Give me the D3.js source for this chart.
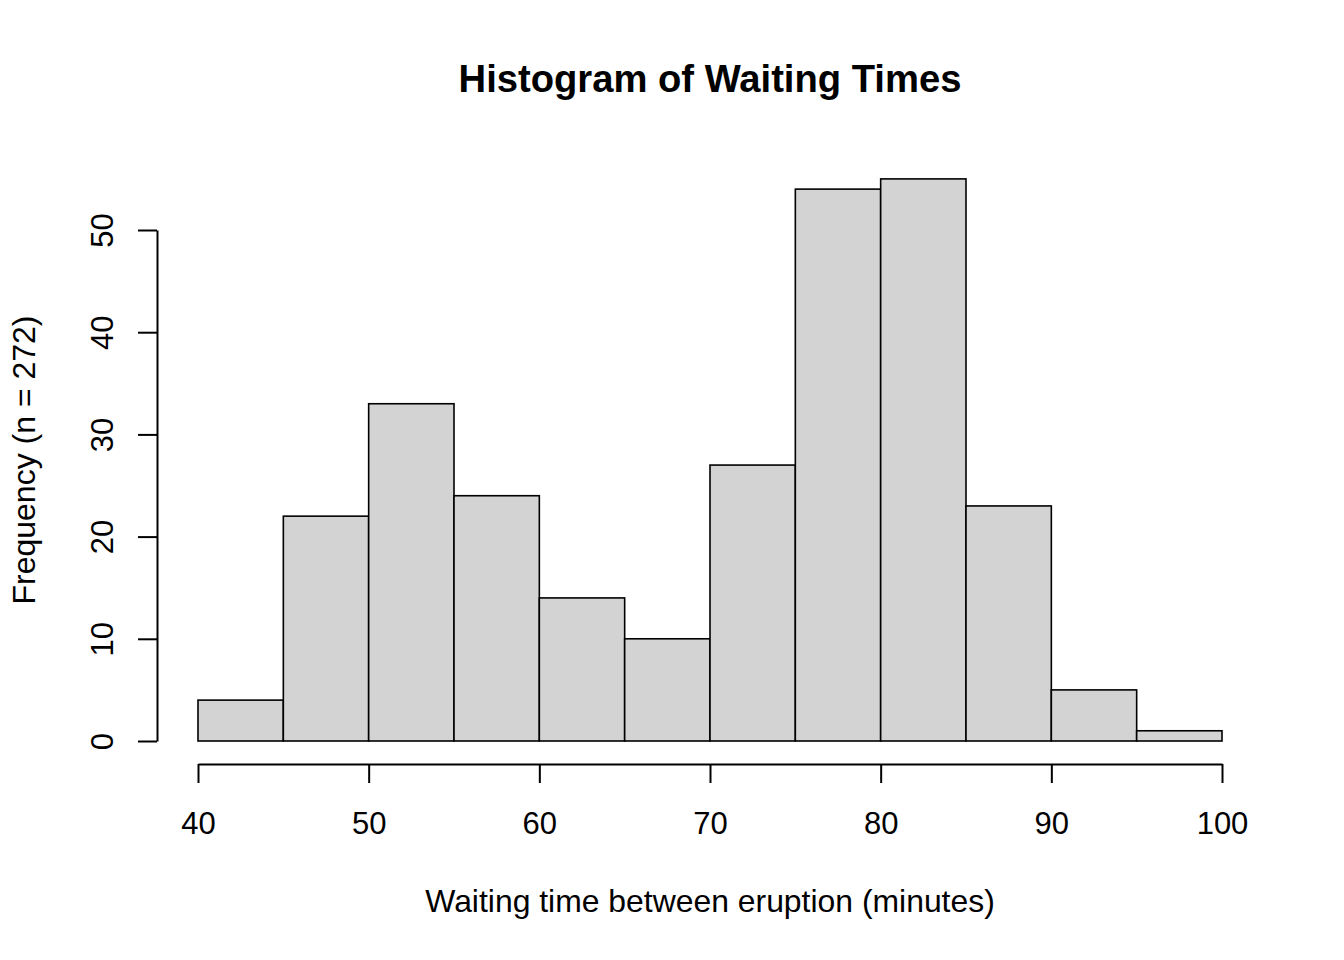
<!DOCTYPE html>
<html><head><meta charset="utf-8">
<script src="https://cdn.jsdelivr.net/npm/d3@7"></script>
<style>body{margin:0;background:#fff}svg text{font-family:"Liberation Sans",Arial,sans-serif;fill:#000}</style>
</head><body>
<script>
const breaks = [40,45,50,55,60,65,70,75,80,85,90,95,100];
const counts = [4,22,33,24,14,10,27,54,55,23,5,1];
const xTicks = [40,50,60,70,80,90,100];
const yTicks = [0,10,20,30,40,50];
const title = "Histogram of Waiting Times";
const xLabel = "Waiting time between eruption (minutes)";
const yLabel = "Frequency (n = 272)";

const W=1344,H=960;
const svg=d3.select("body").append("svg").attr("width",W).attr("height",H);
const x=d3.scaleLinear().domain([40,100]).range([198,1222]);
const y=d3.scaleLinear().domain([0,50]).range([741,230]);

const bins=counts.map((c,i)=>({x0:breaks[i],x1:breaks[i+1],c}));
svg.append("g").selectAll("rect").data(bins).join("rect")
  .attr("x",d=>x(d.x0)).attr("width",d=>x(d.x1)-x(d.x0))
  .attr("y",d=>y(d.c)).attr("height",d=>y(0)-y(d.c))
  .attr("fill","#d3d3d3").attr("stroke","#000").attr("stroke-width",1.6);

// x axis
const gx=svg.append("g").attr("transform","translate(0,764)");
gx.call(d3.axisBottom(x).tickValues(xTicks).tickSize(19).tickPadding(0).tickSizeOuter(0).tickFormat(d3.format("d")));
gx.select(".domain").attr("stroke-width",2);
gx.selectAll(".tick line").attr("stroke-width",2);
gx.selectAll(".tick text").attr("font-size",31).attr("y",0).attr("dy",0)
  .attr("transform","translate(0,70)").style("font-family","Liberation Sans, Arial, sans-serif");

// y axis
const gy=svg.append("g").attr("transform","translate(157,0)");
gy.call(d3.axisLeft(y).tickValues(yTicks).tickSize(19).tickSizeOuter(0).tickFormat(d3.format("d")));
gy.select(".domain").attr("stroke-width",2);
gy.selectAll(".tick line").attr("stroke-width",2);
gy.selectAll(".tick text").attr("font-size",31).attr("x",0).attr("dy",0)
  .attr("text-anchor","middle").attr("transform","translate(-44,0) rotate(-90)")
  .style("font-family","Liberation Sans, Arial, sans-serif");

svg.append("text").attr("x",710).attr("y",92).attr("text-anchor","middle")
  .attr("font-size",38.2).attr("font-weight","bold").text(title);
svg.append("text").attr("x",710).attr("y",912).attr("text-anchor","middle")
  .attr("font-size",31.9).text(xLabel);
svg.append("text").attr("transform","translate(35,460) rotate(-90)").attr("text-anchor","middle")
  .attr("font-size",32).text(yLabel);
</script>
</body></html>
